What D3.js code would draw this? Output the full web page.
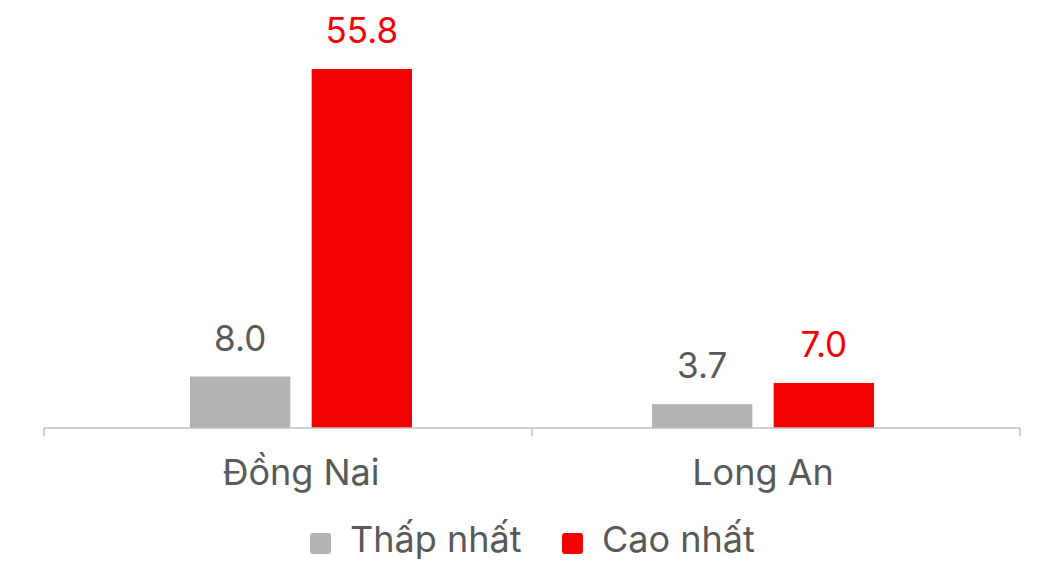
<!DOCTYPE html>
<html>
<head>
<meta charset="utf-8">
<script src="https://cdn.jsdelivr.net/npm/d3@7"></script>
<style>
  html, body { margin: 0; padding: 0; background: #ffffff; }
  svg { display: block; font-family: Inter, "Noto Sans", sans-serif; }
</style>
</head>
<body>
<svg id="chart" width="1038" height="561"></svg>
<script>
// Provinces and the low / high values for each
const categories = ["Đồng Nai", "Long An"];
const seriesNames = ["Thấp nhất", "Cao nhất"];
const lowValues = [8.0, 3.7];
const highValues = [55.8, 7.0];
const seriesColors = ["#b3b3b3", "#f50000"];
const labelColors = ["#595959", "#f50000"];

const svg = d3.select("#chart");

const axisLeft = 44, axisRight = 1020;
const baseY = 428, topY = 69;

// tick positions along the category axis
const xAxis = d3.scaleBand().domain(categories).range([axisLeft, axisRight]);
// placement of each bar group
const x0 = d3.scaleBand().domain(categories).range([70, 994]);
const x1 = d3.scaleBand().domain(seriesNames).range([0, 222]).paddingInner(0.175);
const y = d3.scaleLinear().domain([0, 55.8]).range([baseY, topY]);

const groupLeft = c => x0(c) + x0.bandwidth() / 2 - 111;

const rows = categories.map((c, i) => ({
  cat: c,
  vals: [lowValues[i], highValues[i]]
}));

const groups = svg.selectAll("g.cat").data(rows).join("g")
  .attr("class", "cat")
  .attr("transform", d => `translate(${groupLeft(d.cat)},0)`);

groups.selectAll("rect").data(d => d.vals.map((v, j) => ({ v, j })))
  .join("rect")
  .attr("x", d => x1(seriesNames[d.j]))
  .attr("width", x1.bandwidth())
  .attr("y", d => y(d.v))
  .attr("height", d => baseY - y(d.v))
  .attr("fill", d => seriesColors[d.j]);

groups.selectAll("text.val").data(d => d.vals.map((v, j) => ({ v, j })))
  .join("text")
  .attr("class", "val")
  .attr("x", d => x1(seriesNames[d.j]) + x1.bandwidth() / 2)
  .attr("y", d => y(d.v) - 26)
  .attr("text-anchor", "middle")
  .attr("font-size", 35)
  .attr("fill", d => labelColors[d.j])
  .text(d => d.v.toFixed(1));

// category axis: baseline with ticks at band boundaries
const axisG = svg.append("g").attr("transform", `translate(0,${baseY})`);
axisG.append("line")
  .attr("x1", axisLeft).attr("x2", axisRight)
  .attr("y1", 0).attr("y2", 0)
  .attr("stroke", "#bfbfbf").attr("stroke-width", 1.5);
const tickXs = categories.map(c => xAxis(c)).concat([axisRight]);
axisG.selectAll("line.tick").data(tickXs).join("line")
  .attr("class", "tick")
  .attr("x1", d => d).attr("x2", d => d)
  .attr("y1", 0).attr("y2", 8)
  .attr("stroke", "#bfbfbf").attr("stroke-width", 1.5);

axisG.selectAll("text.cat").data(categories).join("text")
  .attr("class", "cat")
  .attr("x", c => x0(c) + x0.bandwidth() / 2)
  .attr("y", 57)
  .attr("text-anchor", "middle")
  .attr("font-size", 36)
  .attr("fill", "#595959")
  .text(c => c);

// legend
const legend = svg.append("g").attr("transform", "translate(310,533)");
const legendXs = [0, 252];
const items = legend.selectAll("g").data(seriesNames).join("g")
  .attr("transform", (d, i) => `translate(${legendXs[i]},0)`);
items.append("rect")
  .attr("width", 21).attr("height", 21).attr("rx", 3)
  .attr("fill", (d, i) => seriesColors[i]);
items.append("text")
  .attr("x", 40).attr("y", 19)
  .attr("font-size", 36)
  .attr("fill", "#595959")
  .text(d => d);
</script>
</body>
</html>
